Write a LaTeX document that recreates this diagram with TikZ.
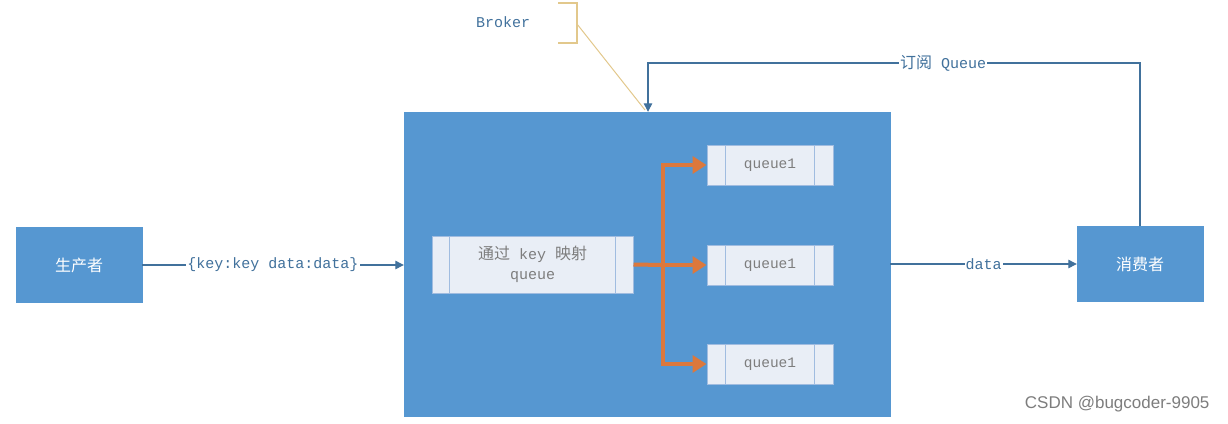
\documentclass[tikz,border=0pt]{standalone}
\usepackage{fontspec}
\setmainfont{Liberation Sans}
\setmonofont{Liberation Mono}
\newfontfamily\cjk{Noto Sans CJK SC}
\newfontfamily\wmfont{Liberation Sans}
\usetikzlibrary{arrows.meta,calc}
\definecolor{boxblue}{RGB}{86,151,209}
\definecolor{lineblue}{RGB}{65,113,156}
\definecolor{qfill}{RGB}{233,238,246}
\definecolor{qline}{RGB}{160,188,224}
\definecolor{orangeln}{RGB}{220,120,60}
\definecolor{tan}{RGB}{226,200,140}
\definecolor{txtgray}{RGB}{125,125,125}
\tikzset{
  bluebox/.style={draw=boxblue,fill=boxblue,minimum width=126pt,minimum height=75pt,inner sep=0pt,text=white,font=\cjk\fontsize{16}{18}\selectfont},
  qbox/.style={draw=qline,fill=qfill,line width=1pt,minimum width=126pt,minimum height=40pt,inner sep=0pt,text=txtgray,font=\ttfamily\fontsize{14.5}{16}\selectfont},
  conn/.style={draw=lineblue,line width=1.2pt,-{Triangle[length=8.5pt,width=8.5pt]}},
  orarrow/.style={draw=orangeln,line width=4pt,-{Triangle[length=14pt,width=17pt]}},
  lbl/.style={fill=white,inner sep=1pt,text=lineblue,font=\ttfamily\fontsize{15}{17}\selectfont},
}
\begin{document}
\begin{tikzpicture}[x=1pt,y=-1pt]
\useasboundingbox (0,0) rectangle (1228,423);
% broker
\node[draw=boxblue,fill=boxblue,minimum width=486pt,minimum height=304pt,inner sep=0pt] (broker) at (647,264) {};
\node[text=lineblue,font=\ttfamily\fontsize{15}{17}\selectfont] (blabel) at (503,22) {Broker};
\draw[tan,line width=1.2pt] (558,3) -- (577,3) -- (577,43) -- (558,43);
\coordinate (bk) at (577,24);
\coordinate (bt) at (645,110);
\draw[tan,line width=1pt] (bk) -- (bt);
% producer / consumer
\node[bluebox] (prod) at (79,265) {生产者};
\node[bluebox] (cons) at (1140,264) {消费者};
% mapping box
\node[qbox,minimum width=201pt,minimum height=57pt,align=center,font=\ttfamily\fontsize{15}{20}\selectfont] (map) at (532.5,264.5) {{\cjk\fontsize{16}{20}\selectfont 通过} key {\cjk\fontsize{16}{20}\selectfont 映射}\\queue};
\draw[qline,line width=1pt] ($(map.north west)+(18,0)$) -- ($(map.south west)+(18,0)$);
\draw[qline,line width=1pt] ($(map.north east)+(-18,0)$) -- ($(map.south east)+(-18,0)$);
% queues
\foreach \n/\y in {q1/165,q2/265,q3/364}{
  \node[qbox] (\n) at (770,\y) {queue1};
  \draw[qline,line width=1pt] ($(\n.north west)+(19,0)$) -- ($(\n.south west)+(19,0)$);
  \draw[qline,line width=1pt] ($(\n.north east)+(-19,0)$) -- ($(\n.south east)+(-19,0)$);
}
% orange routing
\coordinate (trunk) at (663,265);
\draw[orangeln,line width=4pt] (map.east) -- (trunk);
\draw[orarrow] (trunk) |- (q1.west);
\draw[orarrow] (trunk) -- (q2.west);
\draw[orarrow] (trunk) |- (q3.west);
% connectors
\draw[conn] (prod.east) -- node[lbl] {\{key:key data:data\}} (broker.west |- prod.east);
\draw[conn] (broker.east |- cons.west) -- node[lbl] {data} (cons.west);
\coordinate (sc) at (1140,63);
\coordinate (sb) at (648,63);
\draw[conn] (cons.north) -- (sc) -- node[lbl,pos=0.4] {{\cjk\fontsize{16}{18}\selectfont 订阅} Queue} (sb) -- (broker.north -| sb);
% watermark
\node[text=txtgray,font=\wmfont\fontsize{17}{19}\selectfont,anchor=east] (wm) at (1213,404) {CSDN @bugcoder-9905};
\end{tikzpicture}
\end{document}
